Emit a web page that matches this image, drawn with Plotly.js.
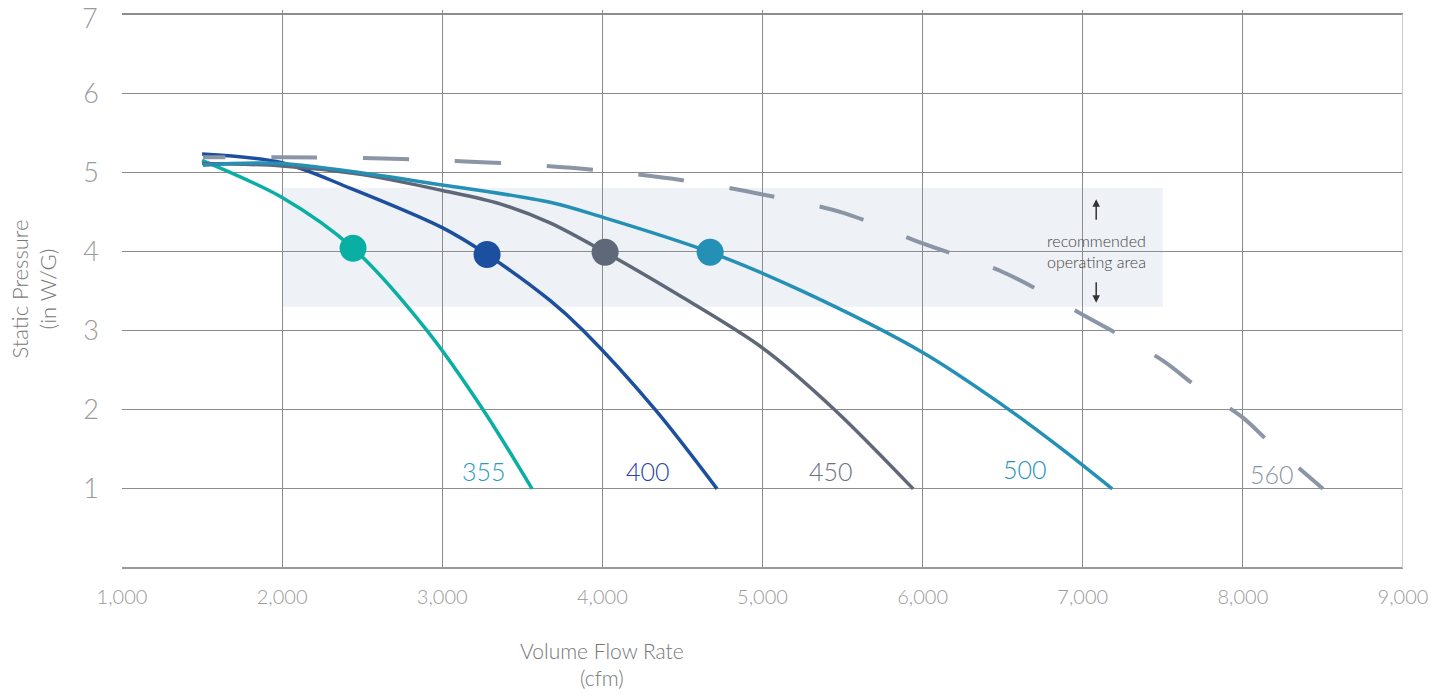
<!DOCTYPE html>
<html>
<head>
<meta charset="utf-8">
<script src="https://cdn.plot.ly/plotly-3.0.1.min.js"></script>
<style>html,body{margin:0;padding:0;background:#fff;}#chart{width:1449px;height:698px;}</style>
</head>
<body>
<div id="chart"></div>
<script>
// ---- data ----
const x355 = [1500, 2000, 2443, 2905, 3255, 3561];
const y355 = [5.15, 4.68, 4.04, 3.0, 2.0, 1.0];

const x400 = [1500, 2000, 2424, 3000, 3280, 3673, 3880, 4330, 4716];
const y400 = [5.23, 5.12, 4.8, 4.3, 3.96, 3.38, 3.0, 2.0, 1.0];

const x450 = [1500, 2000, 2500, 3000, 3361, 3673, 4017, 4500, 5000, 5450, 5941];
const y450 = [5.11, 5.08, 4.97, 4.77, 4.6, 4.36, 3.99, 3.42, 2.78, 2.0, 1.0];

const x500 = [1506, 1999, 2999, 3673, 4004, 4673, 5235, 6003, 6484, 6859, 7184];
const y500 = [5.09, 5.11, 4.84, 4.62, 4.43, 3.99, 3.51, 2.72, 2.08, 1.52, 1.0];

const x560 = [1506, 2000, 2500, 3000, 3500, 4000, 4500, 5000, 5500, 6000, 6500, 7000, 7500, 7700, 8000, 8170, 8500];
const y560 = [5.19, 5.19, 5.18, 5.15, 5.1, 5.02, 4.9, 4.72, 4.49, 4.1, 3.74, 3.2, 2.62, 2.31, 1.9, 1.58, 1.0];

const pointX = [2443, 3280, 4017, 4673];
const pointY = [4.04, 3.96, 3.99, 3.99];

const seriesNames = ['355', '400', '450', '500', '560'];
const labelX = [3261, 4285, 5429, 6640, 8183];
const labelY = [1.22, 1.23, 1.23, 1.25, 1.19];

const areaX = [2000, 7500];
const areaY = [3.3, 4.8];

const xTickVals = [1000, 2000, 3000, 4000, 5000, 6000, 7000, 8000, 9000];
const xTickText = ['1,000', '2,000', '3,000', '4,000', '5,000', '6,000', '7,000', '8,000', '9,000'];
const yTickVals = [1, 2, 3, 4, 5, 6, 7];

const colors = ['#0aafa3', '#1d4f9f', '#5e6878', '#2490b5', '#8a95a5'];
const labelColors = ['#2a9bc0', '#2a43a0', '#6b7280', '#2493b8', '#8a95a5'];
const FONT = 'Lato, "Open Sans", sans-serif';

const xs = [x355, x400, x450, x500, x560];
const ys = [y355, y400, y450, y500, y560];

const traces = [];
for (let i = 0; i < 5; i++) {
  traces.push({
    x: xs[i], y: ys[i], type: 'scatter', mode: 'lines',
    line: {color: colors[i], width: i === 4 ? 4 : 3.5, shape: 'spline', smoothing: 0.9,
           dash: i === 4 ? '46px,46px' : 'solid'},
    hoverinfo: 'skip', showlegend: false
  });
}
for (let i = 0; i < 4; i++) {
  traces.push({
    x: [pointX[i]], y: [pointY[i]], type: 'scatter', mode: 'markers',
    marker: {color: colors[i], size: 27, line: {width: 0}},
    hoverinfo: 'skip', showlegend: false
  });
}

const annotations = [];
for (let i = 0; i < 5; i++) {
  annotations.push({
    x: labelX[i], y: labelY[i], xref: 'x', yref: 'y', text: seriesNames[i],
    showarrow: false, font: {family: FONT, size: 25, weight: 300, color: labelColors[i]}
  });
}
annotations.push({
  x: 7084, y: 4.01, xref: 'x', yref: 'y', text: 'recommended<br>operating area',
  showarrow: false, font: {family: FONT, size: 16, weight: 300, color: '#444'}
});
annotations.push({
  x: 7084, y: 4.66, xref: 'x', yref: 'y', text: '', showarrow: true,
  ax: 0, ay: 22, arrowhead: 2, arrowsize: 1, arrowwidth: 1.5, arrowcolor: '#333'
});
annotations.push({
  x: 7084, y: 3.35, xref: 'x', yref: 'y', text: '', showarrow: true,
  ax: 0, ay: -22, arrowhead: 2, arrowsize: 1, arrowwidth: 1.5, arrowcolor: '#333'
});
annotations.push({
  x: 4000, y: -0.122, xref: 'x', yref: 'paper', yanchor: 'top',
  text: 'Volume Flow Rate<br>(cfm)', showarrow: false,
  font: {family: FONT, size: 21, weight: 300, color: '#777'}
});
// top y tick label (Plotly drops it at the figure edge)
annotations.push({
  x: 0, xref: 'paper', xanchor: 'right', xshift: -22,
  y: yTickVals[yTickVals.length - 1], yref: 'y', yanchor: 'top', yshift: 15,
  text: String(yTickVals[yTickVals.length - 1]), showarrow: false,
  font: {family: FONT, size: 27, weight: 300, color: '#9a9a9a'}
});

const layout = {
  width: 1449, height: 698,
  margin: {l: 122, r: 46, t: 10, b: 130},
  paper_bgcolor: '#fff', plot_bgcolor: '#fff',
  font: {family: FONT},
  xaxis: {
    range: [1000, 9000], tickvals: xTickVals, ticktext: xTickText,
    showgrid: true, gridcolor: '#8c8c8c', gridwidth: 1.2,
    zeroline: false, showline: false, ticks: '',
    ticklabelstandoff: 15,
    tickfont: {family: FONT, size: 20, weight: 300, color: '#9a9a9a'}
  },
  yaxis: {
    range: [0, 7.05], tickvals: yTickVals,
    showgrid: true, gridcolor: '#8c8c8c', gridwidth: 1.2,
    zeroline: true, zerolinecolor: '#9a9a9a', zerolinewidth: 1.2,
    showline: false, ticks: '',
    ticklabelstandoff: 22,
    tickfont: {family: FONT, size: 27, weight: 300, color: '#9a9a9a'},
    title: {text: 'Static Pressure<br>(in W/G)', standoff: 20,
            font: {family: FONT, size: 22, weight: 300, color: '#777'}}
  },
  shapes: [
    {type: 'rect', xref: 'x', yref: 'y', x0: areaX[0], x1: areaX[1], y0: areaY[0], y1: areaY[1],
     fillcolor: '#eef1f6', line: {width: 0}, layer: 'below'},
    {type: 'line', xref: 'x', yref: 'y', x0: 9000, x1: 9000, y0: 0, y1: 7,
     line: {color: '#cccccc', width: 2}, layer: 'above'}
  ],
  annotations: annotations
};

Plotly.newPlot('chart', traces, layout, {displayModeBar: false, staticPlot: true}).then(function () {
  const lines = document.querySelectorAll('.scatterlayer .trace');
  if (lines.length > 4) {
    const p = lines[4].querySelector('path.js-line');
    if (p) p.style.strokeDashoffset = '24px';
  }
});
</script>
</body>
</html>
